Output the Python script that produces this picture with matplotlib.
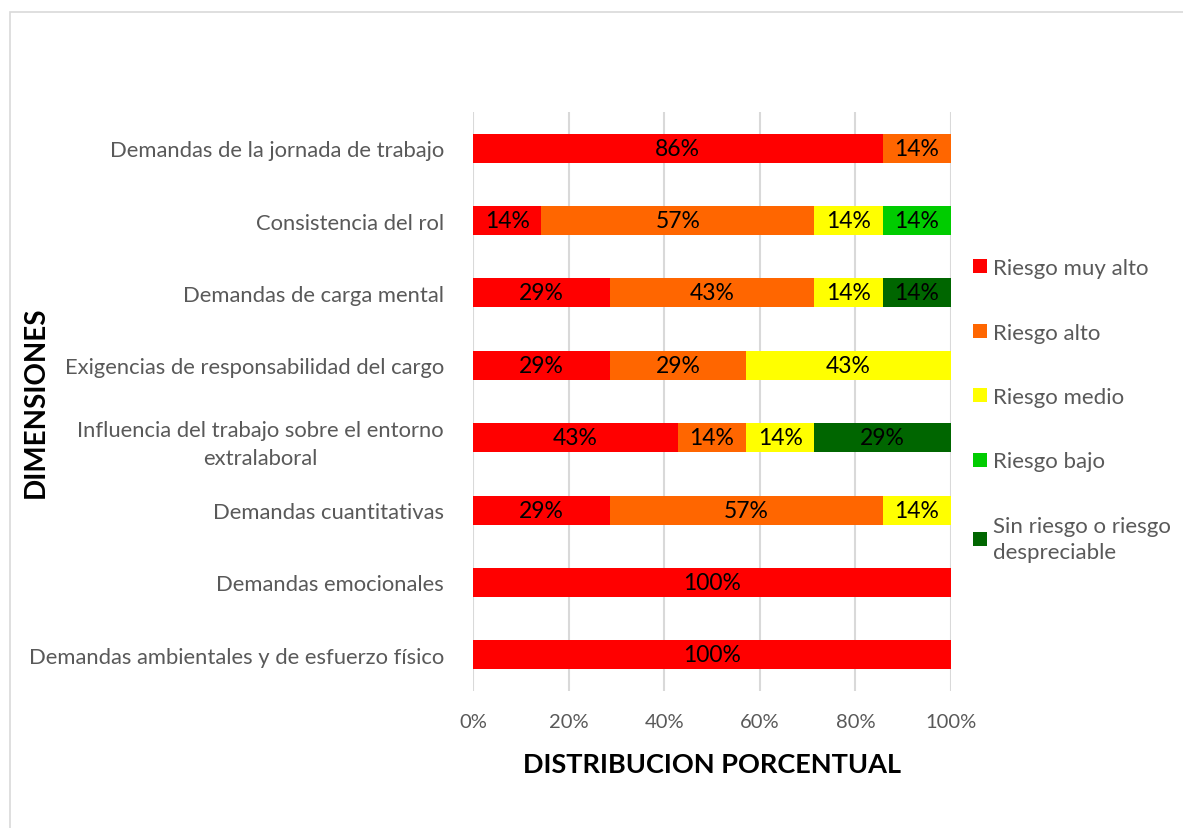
import numpy as np
import matplotlib.pyplot as plt
from matplotlib.patches import Rectangle

plt.rcParams['font.family'] = ['Lato', 'DejaVu Sans']

# Datos (fracción de trabajadores por nivel de riesgo)
dimensiones = [
    'Demandas de la jornada de trabajo',
    'Consistencia del rol',
    'Demandas de carga mental',
    'Exigencias de responsabilidad del cargo',
    'Influencia del trabajo sobre el entorno\nextralaboral',
    'Demandas cuantitativas',
    'Demandas emocionales',
    'Demandas ambientales y de esfuerzo físico',
]
niveles = ['Riesgo muy alto', 'Riesgo alto', 'Riesgo medio', 'Riesgo bajo',
           'Sin riesgo o riesgo\ndespreciable']
muy_alto = [0.8571, 0.1429, 0.2857, 0.2857, 0.4286, 0.2857, 1.0, 1.0]
alto = [0.1429, 0.5714, 0.4286, 0.2857, 0.1429, 0.5714, 0.0, 0.0]
medio = [0.0, 0.1429, 0.1429, 0.4286, 0.1429, 0.1429, 0.0, 0.0]
bajo = [0.0, 0.1429, 0.0, 0.0, 0.0, 0.0, 0.0, 0.0]
sin_riesgo = [0.0, 0.0, 0.1429, 0.0, 0.2857, 0.0, 0.0, 0.0]
colores = ['#FF0000', '#FF6600', '#FFFF00', '#00CC00', '#006600']

series = [muy_alto, alto, medio, bajo, sin_riesgo]

fig = plt.figure(figsize=(11.83, 8.29), dpi=100)
ax = fig.add_axes([0.3998, 0.1653, 0.4041, 0.6984])

y = np.arange(len(dimensiones))
izq = np.zeros(len(dimensiones))
for vals, nombre, col in zip(series, niveles, colores):
    vals = np.array(vals)
    bars = ax.barh(y, vals, left=izq, height=0.4, color=col, label=nombre, zorder=3)
    for b, v in zip(bars, vals):
        if v > 0:
            ax.text(b.get_x() + b.get_width() / 2, b.get_y() + b.get_height() / 2,
                    f'{v * 100:.0f}%', ha='center', va='center', fontsize=16.5,
                    color='black', zorder=4)
    izq += vals

ax.set_xlim(0, 1)
ax.set_ylim(len(dimensiones) - 0.5, -0.5)
ax.set_yticks(y)
ax.set_yticklabels(dimensiones, fontsize=15.8, color='#595959',
                   multialignment='center', linespacing=1.5)
ax.set_xticks(np.arange(0, 1.01, 0.2))
ax.set_xticklabels([f'{int(t * 100)}%' for t in np.arange(0, 1.01, 0.2)],
                   fontsize=14.5, color='#595959')
ax.tick_params(axis='y', length=0, pad=21)
ax.tick_params(axis='x', length=0, pad=16)
ax.grid(axis='x', color='#D9D9D9', linewidth=1.5, zorder=0)
for s in ax.spines.values():
    s.set_visible(False)

ax.set_xlabel('DISTRIBUCION PORCENTUAL', fontsize=19.5, fontweight='bold',
              color='black', labelpad=16)
fig.text(0.030, 0.515, 'DIMENSIONES', rotation=90, fontsize=20, fontweight='bold',
         color='black', ha='center', va='center')

leg = ax.legend(loc='center left', bbox_to_anchor=(1.005, 0.485), frameon=False,
                fontsize=16, labelcolor='#595959', handlelength=0.6,
                handleheight=0.6, handletextpad=0.3, labelspacing=2.0)
for t in leg.get_texts():
    t.set_linespacing(1.4)

# marco del gráfico
fig.add_artist(Rectangle((0.0085, -0.01), 1.0, 0.994, transform=fig.transFigure,
                         fill=False, edgecolor='#D9D9D9', linewidth=1.2))

fig.savefig('out.png', dpi=100)
